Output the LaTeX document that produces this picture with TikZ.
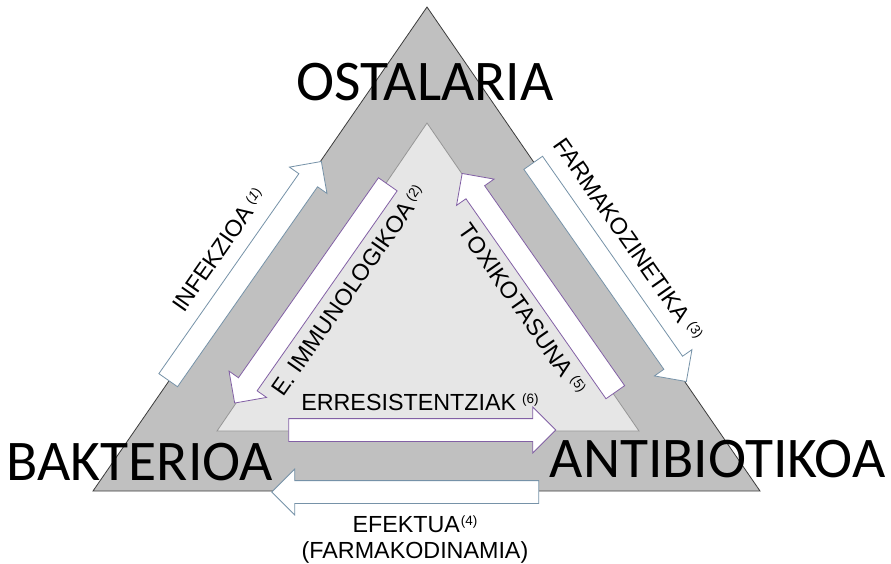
\documentclass[tikz,border=0pt]{standalone}
\usepackage{fontspec}
\setmainfont{Liberation Sans}
\newfontfamily\bigfont{Carlito}
\usetikzlibrary{shapes.arrows}
\definecolor{outerfill}{RGB}{192,192,192}
\definecolor{outerline}{RGB}{60,60,60}
\definecolor{innerfill}{RGB}{230,230,230}
\definecolor{innerline}{RGB}{150,150,150}
\definecolor{bluearrow}{RGB}{118,146,168}
\definecolor{purplearrow}{RGB}{130,96,165}
\newcommand\supnum[2][5pt]{\kern#1\raisebox{6.5pt}{\fontsize{13.5}{14}\selectfont(#2)}}
\tikzset{
  blockarrow/.style={single arrow, draw, fill=white, line width=0.8pt,
    minimum height=267pt, inner xsep=0pt, inner ysep=11pt,
    single arrow head extend=11.5pt},
  bluearr/.style={blockarrow, draw=bluearrow},
  purparr/.style={blockarrow, draw=purplearrow},
  biglabel/.style={font=\bigfont\fontsize{57.5}{60}\selectfont, inner sep=0pt, anchor=base},
  smalllabel/.style={font=\fontsize{23.3}{27}\selectfont, inner sep=0pt, anchor=base},
}
\begin{document}
\begin{tikzpicture}[x=1pt,y=-1pt]
\useasboundingbox[fill=white] (0,0) rectangle (891,563);
% triangles
\coordinate (OT) at (427,7);
\coordinate (OL) at (93,491);
\coordinate (OR) at (760,491);
\coordinate (IT) at (427,123);
\coordinate (IL) at (217,431);
\coordinate (IR) at (639,431);
\path[fill=outerfill, draw=outerline, line width=0.8pt] (OT) -- (OL) -- (OR) -- cycle;
\path[fill=innerfill, draw=innerline, line width=0.8pt] (IT) -- (IL) -- (IR) -- cycle;
% arrows
\node[bluearr, rotate=55] (a1) at (241.5,275.5) {};
\node[purparr, rotate=235] (a2) at (314.5,289) {};
\node[bluearr, rotate=-55] (a3) at (606.5,267.5) {};
\node[purparr, rotate=125] (a5) at (542,287.5) {};
\node[purparr] (a6) at (416.5,430) {};
\node[bluearr, rotate=180] (a4) at (411,492) {};
% big labels
\node[biglabel] (host) at (425,100) {OSTALARIA};
\node[biglabel] (bact) at (140,480) {BAKTERIOA};
\node[biglabel] (anti) at (717.5,477) {ANTIBIOTIKOA};
% small labels
\node[smalllabel, rotate=55] (l1) at (225.7,254.4) {INFEKZIOA\supnum{\textit{1}}};
\node[smalllabel, rotate=55] (l2) at (355.4,295) {E. IMMUNOLOGIKOA\supnum[4pt]{2}};
\node[smalllabel, rotate=-55] (l3) at (622,244) {FARMAKOZINETIKA\supnum[6pt]{3}};
\node[smalllabel, rotate=-55] (l5) at (516,314) {TOXIKOTASUNA\supnum[6pt]{5}};
\node[smalllabel] (l6) at (420,410) {ERRESISTENTZIAK\supnum[6pt]{6}};
\node[smalllabel] (l4) at (415,532) {EFEKTUA\supnum[1pt]{4}};
\node[smalllabel] (l4b) at (415,558) {(FARMAKODINAMIA)};
\end{tikzpicture}
\end{document}
